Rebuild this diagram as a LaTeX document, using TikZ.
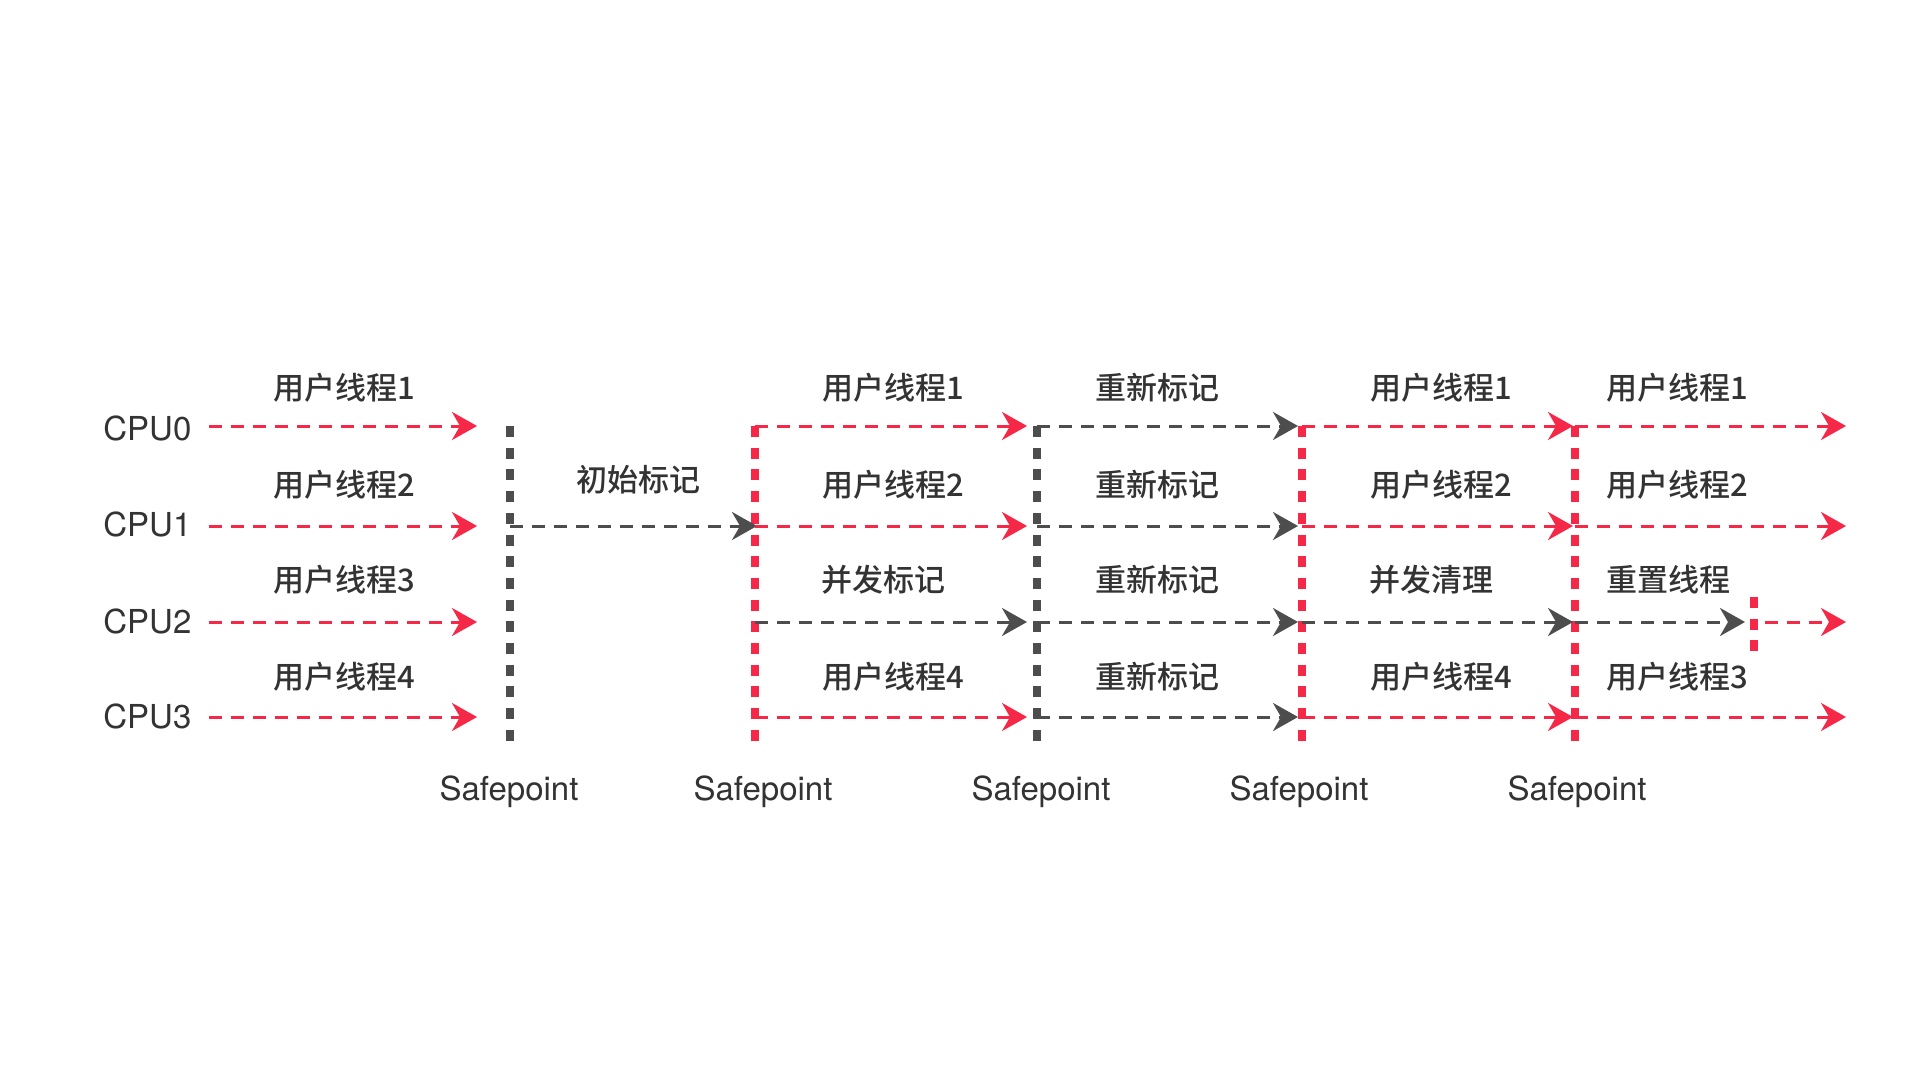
\documentclass[tikz,border=0pt]{standalone}
\usepackage{fontspec}
\setmainfont{TeX Gyre Heros}
\newfontfamily\cjk{Noto Sans CJK SC Medium}
\usetikzlibrary{arrows.meta}
\definecolor{flowred}{RGB}{245,40,72}
\definecolor{flowgray}{RGB}{77,77,77}
\definecolor{txt}{RGB}{51,51,51}

\begin{document}
\begin{tikzpicture}[x=0.5pt,y=-0.5pt,
  every node/.style={text=txt, inner sep=0pt},
  lbl/.style={font=\cjk\fontsize{15.5pt}{18pt}\selectfont},
  lat/.style={font=\fontsize{16.5pt}{19pt}\selectfont},
  redflow/.style={draw=flowred, line width=1.5pt, dash pattern=on 6.5pt off 4.5pt,
    -{Stealth[length=12.5pt,width=14pt,inset=4pt]}},
  grayflow/.style={redflow, draw=flowgray},
  redsp/.style={draw=flowred, line width=4pt, dash pattern=on 5.5pt off 5.35pt},
  graysp/.style={redsp, draw=flowgray},
]
\fill[white] (0,0) rectangle (1920,1080);
\path[use as bounding box] (0,0) rectangle (1920,1080);

% safepoint columns and the rows that cross them
\foreach \n/\x in {1/510,2/755,3/1037,4/1302,5/1575} {
  \coordinate (sp\n top) at (\x,426);
  \coordinate (sp\n bot) at (\x,745);
  \foreach \r/\y in {0/426,1/526,2/622,3/717} {
    \coordinate (p\n-\r) at (\x,\y);
  }
}
\foreach \r/\y/\t in {0/426/428.5,1/526/524.5,2/622/621,3/717/716} {
  \coordinate (in\r) at (209,\y);
  \coordinate (out\r) at (1846,\y);
  \node[lat, anchor=west] (cpu\r) at (103,\t) {CPU\r};
}
\coordinate (reset) at (1754,622);
\coordinate (reset top) at (1754,597);
\coordinate (reset bot) at (1754,653);

% safepoint barriers
\draw[graysp] (sp1top) -- (sp1bot);
\draw[redsp]  (sp2top) -- (sp2bot);
\draw[graysp] (sp3top) -- (sp3bot);
\draw[redsp]  (sp4top) -- (sp4bot);
\draw[redsp]  (sp5top) -- (sp5bot);
\draw[redsp]  (reset top) -- (reset bot);

% before the first safepoint: user threads
\foreach \r in {0,1,2,3} {
  \draw[redflow, shorten >=16.5pt] (in\r) -- (p1-\r);
}
% initial mark
\draw[grayflow, shorten >=-1pt] (p1-1) -- (p2-1);
% concurrent mark phase
\foreach \r in {0,1,3} {
  \draw[redflow, shorten >=5pt] (p2-\r) -- (p3-\r);
}
\draw[grayflow, shorten >=5pt] (p2-2) -- (p3-2);
% remark
\foreach \r in {0,1,2,3} {
  \draw[grayflow, shorten >=2pt] (p3-\r) -- (p4-\r);
}
% concurrent sweep phase
\foreach \r in {0,1,3} {
  \draw[redflow, shorten >=1pt] (p4-\r) -- (p5-\r);
}
\draw[grayflow, shorten >=1pt] (p4-2) -- (p5-2);
% after the last safepoint
\foreach \r in {0,1,3} {
  \draw[redflow] (p5-\r) -- (out\r);
}
\draw[grayflow, shorten >=4.5pt] (p5-2) -- (reset);
\draw[redflow, shorten <=5.5pt] (reset) -- (out2);

% phase labels
\node[lbl] (u1a) at (344,388) {用户线程1};
\node[lbl] (u2a) at (344,485) {用户线程2};
\node[lbl] (u3a) at (344,580) {用户线程3};
\node[lbl] (u4a) at (344,677) {用户线程4};

\node[lbl] (init) at (638,480) {初始标记};

\node[lbl] (u1b) at (893,388) {用户线程1};
\node[lbl] (u2b) at (893,485) {用户线程2};
\node[lbl] (cmark) at (883,580) {并发标记};
\node[lbl] (u4b) at (893,677) {用户线程4};

\node[lbl] (rm0) at (1157,388) {重新标记};
\node[lbl] (rm1) at (1157,485) {重新标记};
\node[lbl] (rm2) at (1157,580) {重新标记};
\node[lbl] (rm3) at (1157,677) {重新标记};

\node[lbl] (u1c) at (1441,388) {用户线程1};
\node[lbl] (u2c) at (1441,485) {用户线程2};
\node[lbl] (csweep) at (1431,580) {并发清理};
\node[lbl] (u4c) at (1441,677) {用户线程4};

\node[lbl] (u1d) at (1677,388) {用户线程1};
\node[lbl] (u2d) at (1677,485) {用户线程2};
\node[lbl] (rst) at (1668,580) {重置线程};
\node[lbl] (u3d) at (1677,677) {用户线程3};

% safepoint captions
\foreach \n/\x in {1/509,2/763,3/1041,4/1299,5/1577} {
  \node[lat, anchor=base] (cap\n) at (\x,800) {Safepoint};
}
\end{tikzpicture}
\end{document}
